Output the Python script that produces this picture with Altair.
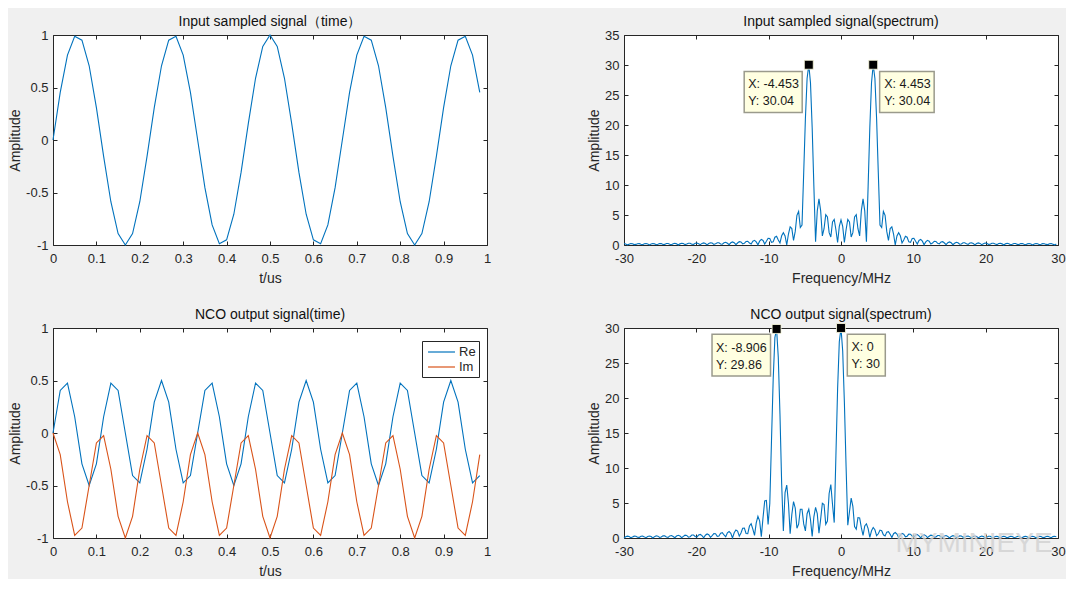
import altair as alt
import pandas as pd

# ---------------- data ----------------
FS_MHZ = 60.0          # sample rate (x axis of spectra spans -30..30 MHz)
NFFT = 256             # spectrum grid points

sig_time = [
    0.0, 0.454, 0.809, 0.988, 0.951, 0.707, 0.309, -0.156, -0.588, -0.891,
    -1.0, -0.891, -0.588, -0.156, 0.309, 0.707, 0.951, 0.988, 0.809, 0.454,
    0.0, -0.454, -0.809, -0.988, -0.951, -0.707, -0.309, 0.156, 0.588, 0.891,
    1.0, 0.891, 0.588, 0.156, -0.309, -0.707, -0.951, -0.988, -0.809, -0.454,
    0.0, 0.454, 0.809, 0.988, 0.951, 0.707, 0.309, -0.156, -0.588, -0.891,
    -1.0, -0.891, -0.588, -0.156, 0.309, 0.707, 0.951, 0.988, 0.809, 0.454,
]

nco_re = [
    0.0, 0.405, 0.476, 0.155, -0.294, -0.5, -0.294, 0.155, 0.476, 0.405,
    0.0, -0.405, -0.476, -0.155, 0.294, 0.5, 0.294, -0.155, -0.476, -0.405,
    0.0, 0.405, 0.476, 0.155, -0.294, -0.5, -0.294, 0.155, 0.476, 0.405,
    0.0, -0.405, -0.476, -0.155, 0.294, 0.5, 0.294, -0.155, -0.476, -0.405,
    0.0, 0.405, 0.476, 0.155, -0.294, -0.5, -0.294, 0.155, 0.476, 0.405,
    0.0, -0.405, -0.476, -0.155, 0.294, 0.5, 0.294, -0.155, -0.476, -0.405,
]

nco_im = [
    0.0, -0.206, -0.655, -0.976, -0.905, -0.5, -0.095, -0.024, -0.345, -0.794,
    -1.0, -0.794, -0.345, -0.024, -0.095, -0.5, -0.905, -0.976, -0.655, -0.206,
    0.0, -0.206, -0.655, -0.976, -0.905, -0.5, -0.095, -0.024, -0.345, -0.794,
    -1.0, -0.794, -0.345, -0.024, -0.095, -0.5, -0.905, -0.976, -0.655, -0.206,
    0.0, -0.206, -0.655, -0.976, -0.905, -0.5, -0.095, -0.024, -0.345, -0.794,
    -1.0, -0.794, -0.345, -0.024, -0.095, -0.5, -0.905, -0.976, -0.655, -0.206,
]

spec_in = [
    0.24, 0.18, 0.02, 0.14, 0.24, 0.21, 0.07, 0.10, 0.22, 0.23, 0.12, 0.06, 0.20, 0.24, 0.16, 0.01,
    0.18, 0.25, 0.19, 0.04, 0.14, 0.25, 0.23, 0.09, 0.10, 0.24, 0.26, 0.14, 0.05, 0.22, 0.28, 0.19,
    0.00, 0.19, 0.29, 0.24, 0.06, 0.16, 0.29, 0.28, 0.12, 0.11, 0.29, 0.32, 0.19, 0.05, 0.27, 0.35,
    0.25, 0.02, 0.24, 0.37, 0.32, 0.10, 0.19, 0.38, 0.38, 0.18, 0.13, 0.38, 0.45, 0.28, 0.05, 0.37,
    0.51, 0.39, 0.05, 0.33, 0.56, 0.51, 0.18, 0.27, 0.60, 0.63, 0.33, 0.18, 0.63, 0.78, 0.52, 0.04,
    0.64, 0.94, 0.76, 0.15, 0.61, 1.11, 1.07, 0.44, 0.52, 1.30, 1.47, 0.85, 0.35, 1.53, 2.06, 1.51,
    0.00, 1.83, 3.01, 2.73, 0.75, 2.27, 4.95, 5.59, 2.92, 3.31, 12.03, 21.05, 27.76, 30.04, 27.03, 19.54,
    9.77, 0.53, 5.70, 7.68, 5.73, 1.52, 2.71, 5.06, 4.67, 2.06, 1.34, 3.84, 4.27, 2.54, 0.41, 3.10,
    4.17, 3.10, 0.41, 2.54, 4.27, 3.84, 1.34, 2.06, 4.67, 5.06, 2.71, 1.52, 5.73, 7.68, 5.70, 0.53,
    9.77, 19.54, 27.03, 30.04, 27.76, 21.05, 12.03, 3.31, 2.92, 5.59, 4.95, 2.27, 0.75, 2.73, 3.01, 1.83,
    0.00, 1.51, 2.06, 1.53, 0.35, 0.85, 1.47, 1.30, 0.52, 0.44, 1.07, 1.11, 0.61, 0.15, 0.76, 0.94,
    0.64, 0.04, 0.52, 0.78, 0.63, 0.18, 0.33, 0.63, 0.60, 0.27, 0.18, 0.51, 0.56, 0.33, 0.05, 0.39,
    0.51, 0.37, 0.05, 0.28, 0.45, 0.38, 0.13, 0.18, 0.38, 0.38, 0.19, 0.10, 0.32, 0.37, 0.24, 0.02,
    0.25, 0.35, 0.27, 0.05, 0.19, 0.32, 0.29, 0.11, 0.12, 0.28, 0.29, 0.16, 0.06, 0.24, 0.29, 0.19,
    0.00, 0.19, 0.28, 0.22, 0.05, 0.14, 0.26, 0.24, 0.10, 0.09, 0.23, 0.25, 0.14, 0.04, 0.19, 0.25,
    0.18, 0.01, 0.16, 0.24, 0.20, 0.06, 0.12, 0.23, 0.22, 0.10, 0.07, 0.21, 0.24, 0.14, 0.02, 0.18,
]

spec_nco = [
    0.00, 0.17, 0.26, 0.21, 0.05, 0.14, 0.26, 0.25, 0.10, 0.09, 0.25, 0.27, 0.16, 0.04, 0.22, 0.29,
    0.21, 0.01, 0.19, 0.31, 0.26, 0.08, 0.15, 0.31, 0.31, 0.14, 0.10, 0.30, 0.35, 0.21, 0.04, 0.28,
    0.38, 0.29, 0.04, 0.24, 0.40, 0.36, 0.12, 0.19, 0.42, 0.43, 0.22, 0.12, 0.42, 0.51, 0.34, 0.03,
    0.40, 0.58, 0.46, 0.09, 0.35, 0.63, 0.60, 0.24, 0.28, 0.69, 0.76, 0.43, 0.17, 0.73, 0.94, 0.67,
    0.00, 0.74, 1.15, 0.99, 0.26, 0.71, 1.40, 1.41, 0.64, 0.61, 1.71, 2.04, 1.28, 0.37, 2.15, 3.10,
    2.46, 0.19, 2.90, 5.29, 5.35, 1.94, 4.92, 13.89, 22.66, 28.62, 29.86, 25.84, 17.68, 7.78, 1.02, 6.48,
    7.56, 5.01, 0.60, 3.38, 5.21, 4.29, 1.39, 1.97, 4.11, 4.10, 2.01, 1.02, 3.47, 4.12, 2.65, 0.21,
    3.03, 4.37, 3.48, 0.68, 2.70, 4.96, 4.79, 1.97, 2.43, 6.36, 7.63, 4.78, 2.20, 11.77, 21.31, 28.04,
    30.00, 26.72, 19.35, 10.18, 1.82, 3.75, 5.69, 4.52, 1.64, 1.26, 2.92, 2.87, 1.48, 0.36, 1.71, 2.03,
    1.33, 0.09, 1.03, 1.50, 1.18, 0.33, 0.60, 1.13, 1.04, 0.46, 0.30, 0.84, 0.91, 0.53, 0.08, 0.61,
    0.78, 0.56, 0.07, 0.41, 0.65, 0.55, 0.18, 0.26, 0.55, 0.54, 0.26, 0.13, 0.43, 0.50, 0.31, 0.02,
    0.33, 0.46, 0.34, 0.06, 0.24, 0.40, 0.36, 0.13, 0.15, 0.35, 0.36, 0.19, 0.07, 0.29, 0.35, 0.23,
    0.00, 0.23, 0.33, 0.26, 0.06, 0.16, 0.30, 0.28, 0.12, 0.10, 0.26, 0.28, 0.16, 0.04, 0.22, 0.28,
    0.20, 0.01, 0.17, 0.27, 0.22, 0.06, 0.12, 0.25, 0.24, 0.11, 0.07, 0.22, 0.25, 0.15, 0.02, 0.18,
    0.25, 0.18, 0.02, 0.14, 0.24, 0.21, 0.07, 0.10, 0.22, 0.23, 0.11, 0.06, 0.20, 0.24, 0.15, 0.01,
    0.17, 0.24, 0.19, 0.04, 0.14, 0.24, 0.21, 0.08, 0.09, 0.22, 0.24, 0.13, 0.05, 0.20, 0.25, 0.17,
]

# data tips shown on the spectra
tips_in_x = [-4.453, 4.453]
tips_in_y = [30.04, 30.04]
tips_nco_x = [-8.906, 0]
tips_nco_y = [29.86, 30]

# axis ticks
time_ticks = [0, 0.1, 0.2, 0.3, 0.4, 0.5, 0.6, 0.7, 0.8, 0.9, 1]
amp_ticks = [-1, -0.5, 0, 0.5, 1]
freq_ticks = [-30, -20, -10, 0, 10, 20, 30]
spec_in_ticks = [0, 5, 10, 15, 20, 25, 30, 35]
spec_nco_ticks = [0, 5, 10, 15, 20, 25, 30]

titles = ["Input sampled signal\uff08time\uff09", "Input sampled signal(spectrum)",
          "NCO output signal(time)", "NCO output signal(spectrum)"]

# ---------------- styling ----------------
BLUE = "#0072BD"
ORANGE = "#D95319"
AX = "#262626"
FONT = "Liberation Sans"
TICK = 4
PW, PH = 434, 210
LABEL_EXPR = "replace(format(datum.value, '~g'), '\u2212', '-')"

t_us = [n / FS_MHZ for n in range(len(sig_time))]
freq = [k * FS_MHZ / NFFT for k in range(-NFFT // 2, NFFT // 2)]
assert len(spec_in) == NFFT and len(spec_nco) == NFFT


def bottom_axis(title, vals):
    return alt.Axis(orient="bottom", title=title, values=vals, offset=-TICK, tickSize=TICK,
                    labelPadding=7, titlePadding=6, labelExpr=LABEL_EXPR)


def left_axis(title, vals):
    return alt.Axis(orient="left", title=title, values=vals, offset=-TICK, tickSize=TICK,
                    labelPadding=5, titlePadding=3, labelExpr=LABEL_EXPR)


def frame_layer(df, xf, yf, xs, ys, xv, yv):
    return alt.Chart(df).mark_line(opacity=0).encode(
        x=alt.X(xf, type="quantitative", scale=xs,
                axis=alt.Axis(orient="top", values=xv, labels=False, title=None,
                              offset=-TICK, tickSize=TICK)),
        y=alt.Y(yf, type="quantitative", scale=ys,
                axis=alt.Axis(orient="right", values=yv, labels=False, title=None,
                              offset=-TICK, tickSize=TICK)),
    )


def title_of(text):
    return alt.TitleParams(text=text, fontSize=14, fontWeight="normal", font=FONT,
                           color="#111111", offset=0, anchor="middle")


def tip_layers(tx, ty, xs, ys, styles):
    layers = []
    for x, y, st in zip(tx, ty, styles):
        d = pd.DataFrame({"x": [x], "y": [y], "lx": [f"X: {x:g}"], "ly": [f"Y: {y:g}"]})
        base = alt.Chart(d).encode(
            x=alt.X("x:Q", scale=xs, axis=None), y=alt.Y("y:Q", scale=ys, axis=None))
        box = base.mark_rect(width=st["w"], height=st["h"], xOffset=st["bx"], yOffset=st["by"],
                             fill="#ffffe1", stroke="#9a9a8c", strokeWidth=1.5)
        sq = base.mark_square(size=80, color="black", opacity=1, stroke="#ffffe1",
                              strokeWidth=0.8)
        t1 = base.mark_text(align="left", baseline="middle", dx=st["tx"], dy=19.3,
                            fontSize=12.5, font=FONT, color="#1a1a1a").encode(text="lx:N")
        t2 = base.mark_text(align="left", baseline="middle", dx=st["tx"], dy=36,
                            fontSize=12.5, font=FONT, color="#1a1a1a").encode(text="ly:N")
        layers += [box, sq, t1, t2]
    return layers


# ---------------- panel 1: input time ----------------
xs_t = alt.Scale(domain=[0, 1], nice=False, zero=False)
ys_a = alt.Scale(domain=[-1, 1], nice=False, zero=False)
df1 = pd.DataFrame({"t": t_us, "v": sig_time})
p1_line = alt.Chart(df1).mark_line(color=BLUE, strokeWidth=1.1).encode(
    x=alt.X("t:Q", scale=xs_t, axis=bottom_axis("t/us", time_ticks)),
    y=alt.Y("v:Q", scale=ys_a, axis=left_axis("Amplitude", amp_ticks)),
)
p1 = alt.layer(p1_line, frame_layer(df1, "t", "v", xs_t, ys_a, time_ticks, amp_ticks)) \
    .resolve_axis(x="independent", y="independent") \
    .properties(width=PW, height=PH, title=title_of(titles[0]))

# ---------------- panel 2: input spectrum ----------------
xs_f = alt.Scale(domain=[-30, 30], nice=False, zero=False)
ys_s1 = alt.Scale(domain=[0, 35], nice=False)
df2 = pd.DataFrame({"f": freq, "v": spec_in})
p2_line = alt.Chart(df2).mark_line(color=BLUE, strokeWidth=1.1).encode(
    x=alt.X("f:Q", scale=xs_f, axis=bottom_axis("Frequency/MHz", freq_ticks)),
    y=alt.Y("v:Q", scale=ys_s1, axis=left_axis("Amplitude", spec_in_ticks)),
)
tip_style_in = [
    {"w": 58, "h": 41, "bx": -35.6, "by": 27.2, "tx": -60.6},
    {"w": 54.5, "h": 41, "bx": 33.7, "by": 27.2, "tx": 11},
]
p2 = alt.layer(p2_line, frame_layer(df2, "f", "v", xs_f, ys_s1, freq_ticks, spec_in_ticks),
               *tip_layers(tips_in_x, tips_in_y, xs_f, ys_s1, tip_style_in)) \
    .resolve_axis(x="independent", y="independent") \
    .properties(width=PW, height=PH, title=title_of(titles[1]))

# ---------------- panel 3: NCO time ----------------
df3 = pd.DataFrame({
    "t": t_us + t_us,
    "v": nco_re + nco_im,
    "part": ["Re"] * len(nco_re) + ["Im"] * len(nco_im),
})
p3_line = alt.Chart(df3).mark_line(strokeWidth=1.1).encode(
    x=alt.X("t:Q", scale=xs_t, axis=bottom_axis("t/us", time_ticks)),
    y=alt.Y("v:Q", scale=ys_a, axis=left_axis("Amplitude", amp_ticks)),
    color=alt.Color("part:N", scale=alt.Scale(domain=["Re", "Im"], range=[BLUE, ORANGE]),
                    legend=alt.Legend(title=None, orient="none", legendX=369, legendY=306,
                                      symbolType="M-0.71,0L3.14,0", symbolSize=196,
                                      symbolStrokeWidth=1.2,
                                      strokeColor=AX, fillColor="white", padding=3,
                                      rowPadding=0, labelFontSize=13, labelFont=FONT,
                                      labelColor=AX, labelOffset=18)),
)
p3 = alt.layer(p3_line, frame_layer(df3, "t", "v", xs_t, ys_a, time_ticks, amp_ticks)) \
    .resolve_axis(x="independent", y="independent") \
    .properties(width=PW, height=PH, title=title_of(titles[2]))

# ---------------- panel 4: NCO spectrum ----------------
ys_s2 = alt.Scale(domain=[0, 30], nice=False)
df4 = pd.DataFrame({"f": freq, "v": spec_nco})
p4_line = alt.Chart(df4).mark_line(color=BLUE, strokeWidth=1.1).encode(
    x=alt.X("f:Q", scale=xs_f, axis=bottom_axis("Frequency/MHz", freq_ticks)),
    y=alt.Y("v:Q", scale=ys_s2, axis=left_axis("Amplitude", spec_nco_ticks)),
)
tip_style_nco = [
    {"w": 58.5, "h": 41.7, "bx": -35.3, "by": 26.2, "tx": -60.6},
    {"w": 38, "h": 41.7, "bx": 25.3, "by": 27.2, "tx": 10.4},
]
watermark = alt.Chart(pd.DataFrame({"w": ["MYMINIEYE"]})).mark_text(
    fontSize=28, font=FONT, color="#d2d2d2", opacity=0.8, align="center", baseline="middle"
).encode(text="w:N", x=alt.value(350), y=alt.value(216))
p4 = alt.layer(p4_line, frame_layer(df4, "f", "v", xs_f, ys_s2, freq_ticks, spec_nco_ticks),
               *tip_layers(tips_nco_x, tips_nco_y, xs_f, ys_s2, tip_style_nco), watermark) \
    .resolve_axis(x="independent", y="independent") \
    .properties(width=PW, height=PH, title=title_of(titles[3]))

row1 = alt.hconcat(p1, p2, spacing=95)
row2 = alt.hconcat(p3, p4, spacing=95)
chart = alt.vconcat(row1, row2, spacing=21).properties(
    background="#f0f0f0",
    padding={"left": 0, "top": 6, "right": 0, "bottom": 0},
).configure_view(
    fill="white", stroke=AX, strokeWidth=1
).configure_axis(
    grid=False, domain=False, labelFont=FONT, titleFont=FONT, labelFontSize=13,
    titleFontSize=14, titleFontWeight="normal", labelColor=AX, titleColor=AX,
    tickColor=AX, labelFlush=False, labelOverlap=False, labelBound=False
)

chart.save("out.html", embed_options={"renderer": "svg", "actions": False})
